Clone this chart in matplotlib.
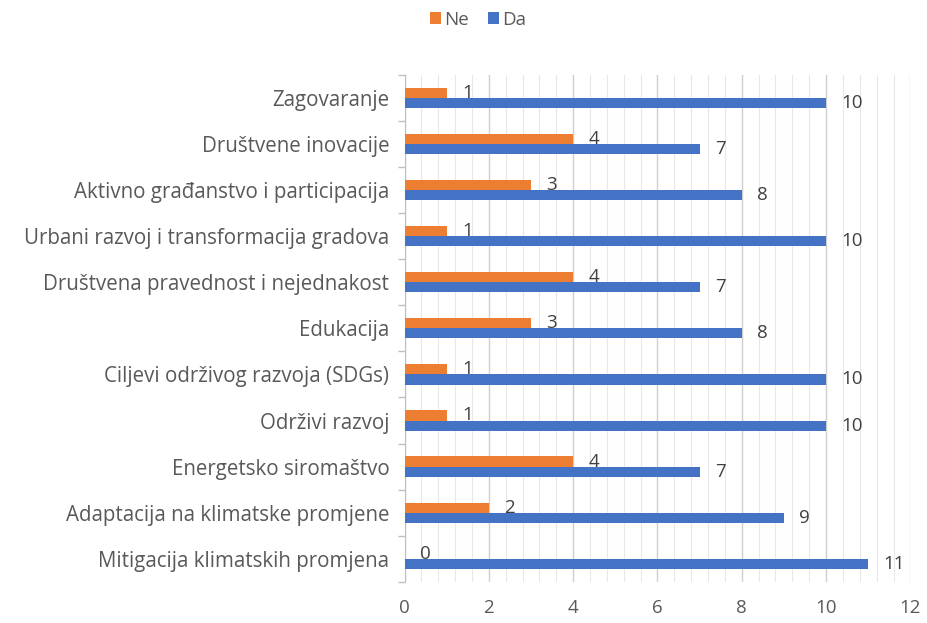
import numpy as np
import matplotlib.pyplot as plt
from matplotlib.ticker import MultipleLocator, FixedLocator

plt.rcParams['font.family'] = ['Open Sans', 'DejaVu Sans']

# categories listed bottom to top
categories = [
    'Mitigacija klimatskih promjena',
    'Adaptacija na klimatske promjene',
    'Energetsko siromaštvo',
    'Održivi razvoj',
    'Ciljevi održivog razvoja (SDGs)',
    'Edukacija',
    'Društvena pravednost i nejednakost',
    'Urbani razvoj i transformacija gradova',
    'Aktivno građanstvo i participacija',
    'Društvene inovacije',
    'Zagovaranje',
]
da = [11, 9, 7, 10, 10, 8, 7, 10, 8, 7, 10]
ne = [0, 2, 4, 1, 1, 3, 4, 1, 3, 4, 1]

c_ne = '#ED7D31'
c_da = '#4472C4'
txt = '#595959'

fig = plt.figure(figsize=(9.28, 6.23), dpi=100)
ax = fig.add_axes([0.436, 0.066, 0.545, 0.814])

y = np.arange(len(categories))
h = 0.22
b_da = ax.barh(y - h / 2, da, height=h, color=c_da, label='Da', zorder=3)
b_ne = ax.barh(y + h / 2, ne, height=h, color=c_ne, label='Ne', zorder=3)

for bars, vals in ((b_da, da), (b_ne, ne)):
    for b, v in zip(bars, vals):
        ax.annotate(str(v), (b.get_width(), b.get_y() + b.get_height() / 2),
                    xytext=(11, 0), textcoords='offset points',
                    ha='left', va='center', fontsize=13.5, color='#404040')

ax.set_xlim(0, 12)
ax.set_ylim(-0.5, len(categories) - 0.5)
ax.xaxis.set_major_locator(MultipleLocator(2))
ax.xaxis.set_minor_locator(MultipleLocator(0.4))
ax.grid(axis='x', which='major', color='#cfcfcf', lw=1, zorder=0)
ax.grid(axis='x', which='minor', color='#e8e8e8', lw=0.8, zorder=0)
ax.tick_params(axis='x', which='both', length=0, labelsize=13.5, labelcolor=txt, pad=12)

# y ticks: marks at category boundaries, labels at centres
ax.yaxis.set_major_locator(FixedLocator(np.arange(-0.5, len(categories), 1)))
ax.yaxis.set_minor_locator(FixedLocator(y))
ax.set_yticklabels([], minor=False)
ax.set_yticklabels(categories, minor=True)
ax.tick_params(axis='y', which='major', length=5, color='#bfbfbf', width=1)
ax.tick_params(axis='y', which='minor', length=0, labelsize=14.8, labelcolor=txt, pad=11)

for s in ('top', 'right', 'bottom'):
    ax.spines[s].set_visible(False)
ax.spines['left'].set_color('#bfbfbf')

handles = [b_ne, b_da]
fig.legend(handles, ['Ne', 'Da'], loc='center', bbox_to_anchor=(0.515, 0.968),
           ncol=2, frameon=False, fontsize=13.5, handlelength=0.6, handleheight=0.6,
           handletextpad=0.15, columnspacing=1.0, labelcolor=txt)

fig.savefig('out.png', dpi=100)
